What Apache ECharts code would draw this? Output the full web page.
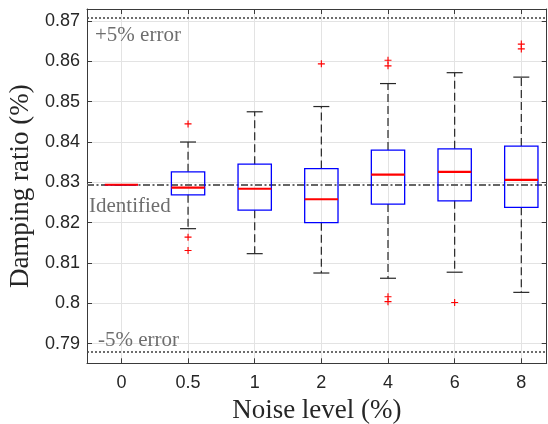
<!DOCTYPE html>
<html>
<head>
<meta charset="utf-8">
<script src="https://cdn.jsdelivr.net/npm/echarts@6/dist/echarts.min.js"></script>
<style>html,body{margin:0;padding:0;background:#fff;}#c{width:548px;height:424px;}</style>
</head>
<body>
<div id="c"></div>
<script>
// ---- data ----
const noiseLevels = ['0', '0.5', '1', '2', '4', '6', '8'];
const positions = [1, 2, 3, 4, 5, 6, 7];
const whiskerLow  = [0.8294, 0.8185, 0.8123, 0.8075, 0.8062, 0.8077, 0.8027];
const q1          = [0.8294, 0.8269, 0.8231, 0.8200, 0.8246, 0.8254, 0.8238];
const median      = [0.8294, 0.8287, 0.8284, 0.8258, 0.8319, 0.8326, 0.8306];
const q3          = [0.8294, 0.8326, 0.8345, 0.8334, 0.8380, 0.8383, 0.8390];
const whiskerHigh = [0.8294, 0.8400, 0.8475, 0.8488, 0.8545, 0.8572, 0.8561];
const outliers = [[], [0.8445, 0.8164, 0.8131], [], [0.8594], [0.8603, 0.8589, 0.8016, 0.8004], [0.8002], [0.8643, 0.8631]];
const identified = 0.8294;
const errorFraction = 0.05;
const yTicks = [0.79, 0.80, 0.81, 0.82, 0.83, 0.84, 0.85, 0.86, 0.87];

// ---- build ----
const boxData = positions.map((p, i) => [p, whiskerLow[i], q1[i], median[i], q3[i], whiskerHigh[i]]);
const outlierData = [];
outliers.forEach((arr, i) => arr.forEach(v => outlierData.push([positions[i], v])));

const X_MIN = 0.484, X_MAX = 7.381, Y_MIN = 0.7851, Y_MAX = 0.873;
const axisColor = '#3a3a3a';
const serif = 'Liberation Serif';

function renderBox(params, api) {
  const x = api.value(0);
  const pLow = api.coord([x, api.value(1)]);
  const pQ1 = api.coord([x, api.value(2)]);
  const pMed = api.coord([x, api.value(3)]);
  const pQ3 = api.coord([x, api.value(4)]);
  const pHigh = api.coord([x, api.value(5)]);
  const halfBox = api.size([0.5, 0])[0] / 2;
  const halfCap = api.size([0.24, 0])[0] / 2;
  const cx = pMed[0];
  const whiskerStyle = { stroke: '#262626', lineWidth: 1.2, lineDash: [8, 4] };
  const capStyle = { stroke: '#262626', lineWidth: 1.2 };
  return {
    type: 'group',
    children: [
      { type: 'line', shape: { x1: cx, y1: pQ3[1], x2: cx, y2: pHigh[1] }, style: whiskerStyle },
      { type: 'line', shape: { x1: cx, y1: pQ1[1], x2: cx, y2: pLow[1] }, style: whiskerStyle },
      { type: 'line', shape: { x1: cx - halfCap, y1: pHigh[1], x2: cx + halfCap, y2: pHigh[1] }, style: capStyle },
      { type: 'line', shape: { x1: cx - halfCap, y1: pLow[1], x2: cx + halfCap, y2: pLow[1] }, style: capStyle },
      { type: 'rect', shape: { x: cx - halfBox, y: pQ3[1], width: halfBox * 2, height: pQ1[1] - pQ3[1] },
        style: { fill: 'none', stroke: '#0000ff', lineWidth: 1.3 } },
      { type: 'line', shape: { x1: cx - halfBox, y1: pMed[1], x2: cx + halfBox, y2: pMed[1] },
        style: { stroke: '#ff0000', lineWidth: 2.2 } }
    ]
  };
}

const chart = echarts.init(document.getElementById('c'), null, { renderer: 'canvas' });
chart.setOption({
  animation: false,
  backgroundColor: '#ffffff',
  grid: { left: 87, right: 1.3, top: 9, bottom: 60.7, containLabel: false, outerBoundsMode: 'none' },
  xAxis: [{
    type: 'value', min: X_MIN, max: X_MAX,
    name: 'Noise level (%)', nameLocation: 'middle', nameGap: 30,
    nameTextStyle: { fontFamily: serif, fontSize: 27, color: '#262626' },
    axisLine: { show: true, lineStyle: { color: axisColor, width: 1 } },
    axisTick: { show: true, inside: true, length: 5, customValues: positions, lineStyle: { color: axisColor } },
    axisLabel: { show: true, customValues: positions, margin: 11, fontFamily: 'Liberation Sans', fontSize: 18, color: '#262626',
      formatter: v => noiseLevels[Math.round(v) - 1] },
    splitLine: { show: true, lineStyle: { color: '#e3e3e3', width: 1 } }
  }, {
    type: 'value', min: X_MIN, max: X_MAX, position: 'top',
    axisLine: { show: true, onZero: false, lineStyle: { color: axisColor, width: 1 } },
    axisTick: { show: true, inside: true, length: 5, customValues: positions, lineStyle: { color: axisColor } },
    axisLabel: { show: false }, splitLine: { show: false }
  }],
  yAxis: [{
    type: 'value', min: Y_MIN, max: Y_MAX,
    name: 'Damping ratio (%)', nameLocation: 'middle', nameGap: 44,
    nameTextStyle: { fontFamily: serif, fontSize: 27, color: '#262626' },
    axisLine: { show: true, lineStyle: { color: axisColor, width: 1 } },
    axisTick: { show: true, inside: true, length: 5, customValues: yTicks, lineStyle: { color: axisColor } },
    axisLabel: { show: true, customValues: yTicks, margin: 7, fontFamily: 'Liberation Sans', fontSize: 18, color: '#262626' },
    splitLine: { show: true, lineStyle: { color: '#e3e3e3', width: 1 } }
  }, {
    type: 'value', min: Y_MIN, max: Y_MAX, position: 'right',
    axisLine: { show: true, onZero: false, lineStyle: { color: axisColor, width: 1 } },
    axisTick: { show: true, inside: true, length: 5, customValues: yTicks, lineStyle: { color: axisColor } },
    axisLabel: { show: false }, splitLine: { show: false }
  }],
  series: [{
    type: 'line', data: [], z: 1, silent: true,
    markLine: {
      silent: true, symbol: 'none', animation: false, precision: 6, z: 1,
      data: [
        { yAxis: identified * (1 + errorFraction),
          lineStyle: { color: '#4a4a4a', type: [2, 2], width: 1.6 },
          label: { show: true, formatter: '+5% error', position: 'insideStartBottom', distance: [8, 7],
            fontFamily: serif, fontSize: 21, color: '#6e6e6e' } },
        { yAxis: identified,
          lineStyle: { color: '#666666', type: [7, 2.5, 2, 2.5], width: 2 },
          label: { show: true, formatter: 'Identified', position: 'insideStartBottom', distance: [2, 11],
            fontFamily: serif, fontSize: 21, color: '#6e6e6e' } },
        { yAxis: identified * (1 - errorFraction),
          lineStyle: { color: '#4a4a4a', type: [2, 2], width: 1.6 },
          label: { show: true, formatter: '-5% error', position: 'insideStartTop', distance: [11, 1],
            fontFamily: serif, fontSize: 21, color: '#6e6e6e' } }
      ]
    }
  }, {
    type: 'custom', z: 3, silent: true,
    renderItem: renderBox,
    encode: { x: 0, y: [1, 2, 3, 4, 5] },
    data: boxData
  }, {
    type: 'scatter', z: 4, silent: true,
    symbol: 'path://M0.42,0H0.58V0.42H1V0.58H0.58V1H0.42V0.58H0V0.42H0.42Z',
    symbolSize: 7,
    itemStyle: { color: '#ff0000', opacity: 1 },
    data: outlierData
  }]
});
</script>
</body>
</html>
